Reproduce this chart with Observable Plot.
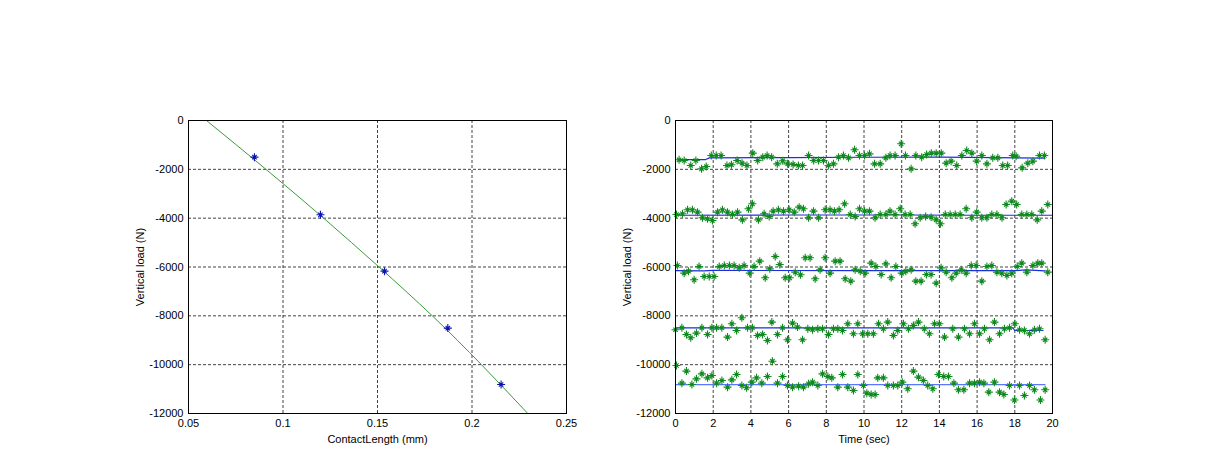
<!DOCTYPE html>
<html><head><meta charset="utf-8">
<script src="https://cdn.jsdelivr.net/npm/d3@7"></script>
<script src="https://cdn.jsdelivr.net/npm/@observablehq/plot@0.6"></script>
<style>
body{margin:0;background:#fff;}
#wrap{position:relative;width:1221px;height:470px;overflow:hidden;background:#fff;}
#left,#right{position:absolute;top:0;}
#left{left:0;} #right{left:610px;}
</style></head><body><div id="wrap"><div id="left"></div><div id="right"></div></div>
<script>
// ---- Left chart data ----
const contactLength = [0.0849, 0.1198, 0.1537, 0.1872, 0.2154];
const contactLoad = [-1502, -3863, -6170, -8503, -10811];
const fitLength = [0.0595, 0.0910, 0.1215, 0.1508, 0.1790, 0.2050, 0.2295];
const fitLoad = [0, -2000, -4000, -6000, -8000, -10000, -12000];
const leftXTicks = [0.05, 0.1, 0.15, 0.2, 0.25];
const loadTicks = [0, -2000, -4000, -6000, -8000, -10000, -12000];
const timeTicks = [0, 2, 4, 6, 8, 10, 12, 14, 16, 18, 20];

// ---- Right chart data: [time (s), load (N)] ----
const series1 = [[0.19,-1610],[0.46,-1638],[0.81,-1843],[1.08,-1638],[1.38,-1980],[1.63,-1884],[1.9,-1433],[2.16,-1433],[2.42,-1433],[2.73,-1843],[2.97,-1810],[3.27,-1638],[3.53,-1747],[3.79,-1843],[4.1,-1338],[4.36,-1638],[4.63,-1500],[4.86,-1433],[5.1,-1500],[5.4,-1775],[5.69,-1650],[5.95,-1775],[6.24,-1800],[6.52,-1843],[6.74,-1843],[7.06,-1433],[7.33,-1638],[7.59,-1638],[7.85,-1638],[8.12,-1843],[8.38,-1775],[8.65,-1500],[8.91,-1433],[9.18,-1530],[9.5,-1200],[9.76,-1433],[10.03,-1433],[10.29,-1365],[10.56,-1775],[10.86,-1775],[11.16,-1530],[11.38,-1433],[11.65,-1433],[11.97,-955],[12.2,-1433],[12.5,-1980],[12.75,-1433],[13.06,-1500],[13.32,-1392],[13.57,-1338],[13.83,-1338],[14.1,-1338],[14.36,-1747],[14.62,-1665],[14.92,-1843],[15.19,-1433],[15.45,-1229],[15.72,-1338],[15.98,-1665],[16.25,-1433],[16.52,-1775],[16.83,-1530],[17.1,-1530],[17.36,-1843],[17.62,-1843],[17.89,-1433],[18.07,-1460],[18.39,-1940],[18.69,-1747],[18.96,-1665],[19.31,-1433],[19.57,-1433]];
const series2 = [[0.05,-3849],[0.37,-3822],[0.64,-3658],[0.9,-3658],[1.17,-3754],[1.43,-3986],[1.7,-4027],[1.96,-4095],[2.23,-3754],[2.49,-3658],[2.76,-3754],[3.02,-3849],[3.29,-3754],[3.55,-4068],[3.87,-3617],[4.08,-3412],[4.4,-4068],[4.7,-3822],[4.97,-3931],[5.18,-3713],[5.46,-3658],[5.73,-3713],[6.03,-3658],[6.3,-3754],[6.56,-3549],[6.79,-3617],[7.06,-3986],[7.32,-3713],[7.59,-3986],[7.94,-3658],[8.2,-3658],[8.43,-3713],[8.68,-3658],[8.97,-3412],[9.27,-3849],[9.53,-3931],[9.76,-3617],[10.03,-3713],[10.29,-3713],[10.59,-3986],[10.86,-3849],[11.16,-3849],[11.38,-3713],[11.65,-3849],[11.92,-3617],[12.18,-3849],[12.45,-3849],[12.71,-4231],[12.98,-3986],[13.27,-3931],[13.56,-3959],[13.83,-4068],[14.06,-4231],[14.31,-3849],[14.57,-3849],[14.84,-3849],[15.1,-3849],[15.42,-3617],[15.72,-3986],[15.98,-3754],[16.25,-3986],[16.52,-3986],[16.78,-3849],[17.05,-3849],[17.32,-3986],[17.54,-3440],[17.84,-3303],[18.1,-3440],[18.37,-3849],[18.64,-3849],[18.9,-3849],[19.19,-4068],[19.43,-3713],[19.75,-3440]];
const series3 = [[0.1,-5938],[0.46,-6252],[0.69,-6170],[0.99,-6525],[1.25,-5979],[1.52,-6388],[1.79,-6388],[2.05,-6388],[2.32,-5979],[2.59,-5938],[2.86,-5938],[3.11,-5938],[3.38,-6034],[3.64,-5938],[3.94,-6252],[4.17,-5979],[4.47,-5760],[4.76,-6443],[5.0,-6075],[5.29,-5569],[5.53,-5897],[5.82,-6443],[6.06,-6443],[6.35,-6211],[6.63,-6320],[6.88,-5624],[7.14,-5624],[7.41,-6484],[7.67,-6116],[7.94,-5624],[8.2,-6252],[8.47,-5760],[8.73,-5760],[9.0,-6484],[9.3,-6580],[9.53,-6116],[9.8,-6170],[10.06,-6252],[10.38,-5842],[10.63,-5979],[10.91,-6307],[11.16,-5870],[11.44,-6443],[11.69,-5979],[12.0,-6252],[12.22,-6170],[12.5,-6116],[12.75,-6580],[13.03,-6580],[13.31,-6307],[13.56,-6307],[13.83,-6662],[14.09,-6034],[14.36,-6211],[14.66,-6443],[14.89,-6252],[15.16,-6116],[15.42,-6252],[15.69,-5938],[15.95,-5938],[16.25,-6580],[16.52,-5979],[16.78,-5938],[17.05,-6211],[17.31,-6252],[17.58,-6347],[17.84,-6252],[18.13,-5979],[18.37,-5842],[18.64,-6211],[18.96,-5938],[19.22,-5842],[19.43,-5842],[19.75,-6211]];
const series4 = [[0.0,-8571],[0.34,-8489],[0.58,-8762],[0.81,-8899],[1.11,-8707],[1.4,-8489],[1.7,-8762],[1.93,-8489],[2.18,-8489],[2.46,-8489],[2.76,-8871],[2.99,-8325],[3.24,-8598],[3.52,-8080],[3.82,-8489],[4.08,-8489],[4.35,-8803],[4.62,-8762],[4.88,-9008],[5.11,-8257],[5.41,-8762],[5.68,-8489],[5.94,-8980],[6.21,-8298],[6.47,-8462],[6.74,-8980],[7.02,-8530],[7.27,-8571],[7.55,-8530],[7.8,-8530],[8.12,-8762],[8.38,-8530],[8.61,-8530],[8.86,-8598],[9.14,-8325],[9.44,-8735],[9.67,-8325],[9.92,-8735],[10.2,-8735],[10.5,-8735],[10.77,-8325],[11.03,-8530],[11.26,-8257],[11.56,-8803],[11.79,-8598],[12.09,-8325],[12.36,-8530],[12.62,-8394],[12.89,-8257],[13.2,-8530],[13.47,-8735],[13.74,-8325],[14.0,-8325],[14.27,-8871],[14.71,-8530],[15.01,-8871],[15.33,-8530],[15.6,-8735],[15.86,-8325],[16.13,-8735],[16.39,-8530],[16.66,-8980],[16.92,-8257],[17.19,-8735],[17.45,-8530],[17.72,-8489],[18.0,-8325],[18.25,-8571],[18.51,-8598],[18.78,-8735],[19.04,-8571],[19.31,-8530],[19.61,-8980]];
const series5 = [[0.05,-10033],[0.34,-10757],[0.58,-10263],[0.87,-10812],[1.11,-10580],[1.4,-10376],[1.7,-10540],[1.93,-10444],[2.18,-10757],[2.46,-10648],[2.76,-10921],[2.99,-10621],[3.24,-10403],[3.52,-10853],[3.77,-10948],[4.05,-10716],[4.3,-10540],[4.58,-10757],[4.88,-10485],[5.14,-9858],[5.41,-10757],[5.68,-10485],[5.94,-10853],[6.21,-10921],[6.53,-10880],[6.79,-10921],[7.06,-10785],[7.27,-10716],[7.55,-10853],[7.8,-10376],[8.08,-10485],[8.29,-10540],[8.61,-10921],[8.86,-10403],[9.14,-10921],[9.44,-11057],[9.67,-10403],[9.97,-10853],[10.15,-11167],[10.38,-11221],[10.59,-11221],[10.73,-10540],[11.03,-10540],[11.26,-10853],[11.56,-10853],[11.79,-10853],[12.03,-10716],[12.32,-10989],[12.62,-10263],[12.89,-10512],[13.15,-10648],[13.38,-10853],[13.65,-10989],[13.95,-10403],[14.23,-10485],[14.48,-10485],[14.77,-10757],[15.01,-11030],[15.3,-11030],[15.6,-10757],[15.86,-10757],[16.13,-10716],[16.36,-10757],[16.62,-11125],[16.92,-10716],[17.19,-11125],[17.42,-11221],[17.72,-10853],[17.98,-11450],[18.25,-10853],[18.51,-11262],[18.78,-10853],[19.04,-11030],[19.36,-11450],[19.61,-11030]];
// mean (blue) lines
const mean1 = [[0.2,-1600],[1.6,-1600],[1.8,-1530],[6,-1520],[10,-1505],[14,-1500],[17,-1520],[19.6,-1540]];
const mean2 = [[0,-3880],[6,-3870],[12,-3870],[16,-3880],[20,-3880]];
const mean3 = [[0,-6150],[1.5,-6160],[2,-6140],[10,-6150],[18,-6150],[18.6,-6120],[19.6,-6160]];
const mean4 = [[0,-8490],[10,-8490],[17.9,-8490],[18,-8600],[19.5,-8600]];
const mean5 = [[0,-10820],[10,-10820],[19.6,-10820]];

const seriesList = [series1, series2, series3, series4, series5];
const meanList = [mean1, mean2, mean3, mean4, mean5];
const meanColors = ["#1a2ee0", "#1a2ee0", "#1a2ee0", "#1a2ee0", "#5a78ff"];

// MATLAB-style '*' marker
const star = {draw(ctx, size){ const r = Math.sqrt(size/Math.PI); const d = r*0.55;
  ctx.moveTo(-r,0); ctx.lineTo(r,0); ctx.moveTo(0,-r); ctx.lineTo(0,r);
  ctx.moveTo(-d,-d); ctx.lineTo(d,d); ctx.moveTo(-d,d); ctx.lineTo(d,-d);}};

const font = {fontFamily: "'Liberation Sans', Arial, sans-serif", fontSize: "11px", background: "white", color: "black"};
const gridStyle = {stroke: "#222", strokeDasharray: "3,2", strokeWidth: 1, strokeOpacity: 0.85};
const fmt = d => String(d);

const fitData = fitLength.map((x, i) => ({x, y: fitLoad[i]}));
const ptData = contactLength.map((x, i) => ({x, y: contactLoad[i]}));

const left = Plot.plot({
  width: 610, height: 470,
  marginLeft: 188, marginRight: 44, marginTop: 120, marginBottom: 57,
  style: font,
  x: {domain: [0.05, 0.25]},
  y: {domain: [-12000, 0]},
  marks: [
    Plot.ruleX(leftXTicks.slice(1, -1), gridStyle),
    Plot.ruleY(loadTicks.slice(1, -1), gridStyle),
    Plot.line(fitData, {x: "x", y: "y", stroke: "#3c9a3c", strokeWidth: 1, curve: "natural"}),
    Plot.dot(ptData, {x: "x", y: "y", symbol: star, r: 4, stroke: "#0a14b4", strokeWidth: 1.1, fill: "none"}),
    Plot.frame({stroke: "black", strokeWidth: 1}),
    Plot.axisX({ticks: leftXTicks, tickSize: 0, tickPadding: 6, tickFormat: fmt,
      label: "ContactLength (mm)", labelAnchor: "center", labelArrow: "none", labelOffset: 29}),
    Plot.axisY({ticks: loadTicks, tickSize: 0, tickPadding: 5, tickFormat: fmt,
      label: "Vertical load (N)", labelAnchor: "center", labelArrow: "none", labelOffset: 52})
  ]
});
document.getElementById("left").appendChild(left);

const rightMarks = [
  Plot.ruleX(timeTicks.slice(1, -1), gridStyle),
  Plot.ruleY(loadTicks.slice(1, -1), gridStyle)
];
meanList.forEach((m, i) => rightMarks.push(Plot.line(m, {x: d => d[0], y: d => d[1], stroke: meanColors[i], strokeWidth: 1.2})));
seriesList.forEach(s => rightMarks.push(Plot.dot(s, {x: d => d[0], y: d => d[1], symbol: star, r: 4, stroke: "#0f8a1e", strokeWidth: 1.1, fill: "none"})));
rightMarks.push(
  Plot.frame({stroke: "black", strokeWidth: 1}),
  Plot.axisX({ticks: timeTicks, tickSize: 0, tickPadding: 6, tickFormat: fmt,
    label: "Time (sec)", labelAnchor: "center", labelArrow: "none", labelOffset: 29}),
  Plot.axisY({ticks: loadTicks, tickSize: 0, tickPadding: 5, tickFormat: fmt,
    label: "Vertical load (N)", labelAnchor: "center", labelArrow: "none", labelOffset: 52})
);

const right = Plot.plot({
  width: 611, height: 470,
  marginLeft: 65, marginRight: 169, marginTop: 120, marginBottom: 57,
  style: font,
  x: {domain: [0, 20]},
  y: {domain: [-12000, 0]},
  marks: rightMarks
});
document.getElementById("right").appendChild(right);
</script></body></html>
